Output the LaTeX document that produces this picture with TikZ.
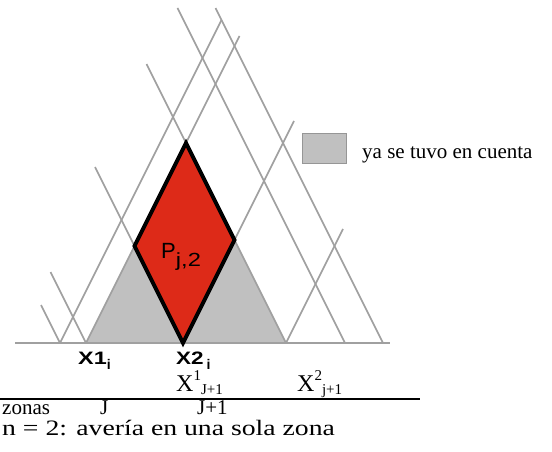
\documentclass[tikz,border=0pt]{standalone}
\usepackage{graphicx}
\usepackage{fontspec}
\setmainfont{Liberation Serif}
\newfontfamily\arialf{Liberation Sans}
\definecolor{redfill}{RGB}{221,42,24}
\definecolor{grayfill}{RGB}{192,192,192}
\definecolor{gridline}{RGB}{160,160,160}
\definecolor{legendborder}{RGB}{150,150,150}
\tikzset{
  gridln/.style={draw=gridline, line width=1.6pt},
  basel/.style={draw=gridline, line width=1.6pt},
  diam/.style={fill=redfill, draw=black, line width=4pt, line join=miter},
  serif/.style={font=\fontsize{21}{24}\selectfont, inner sep=0pt, anchor=base west},
  boldlbl/.style={font=\arialf\bfseries\fontsize{18}{20}\selectfont, inner sep=0pt, anchor=base west},
  bigx/.style={font=\fontsize{24}{26}\selectfont, inner sep=0pt, anchor=base west},
}
\begin{document}
\begin{tikzpicture}[x=1pt,y=-1pt]
\useasboundingbox (0,0) rectangle (552,452);
% gray triangle (already counted)
\fill[grayfill] (86,343) -- (286,343) -- (186,143) -- cycle;
% descending lines "\"
\draw[gridln] (41,305) -- (60,343);
\draw[gridln] (50.5,272) -- (86,343);
\draw[gridln] (95,167) -- (183,343);
\draw[gridln] (146.5,64) -- (286,343);
\draw[gridln] (177.5,8) -- (345,343);
\draw[gridln] (215.5,8) -- (383,343);
% ascending lines "/"
\draw[gridln] (60,343) -- (221.5,20);
\draw[gridln] (86,343) -- (239.5,36);
\draw[gridln] (183,343) -- (294,121);
\draw[gridln] (286,343) -- (343,229);
% base line
\draw[basel] (15,343) -- (390,343);
% red diamond
\path[diam] (186,143) -- (134.5,246) -- (183,343) -- (234.5,240) -- cycle;
\node[font=\arialf\fontsize{22}{24}\selectfont, inner sep=0pt, anchor=base west] (P) at (161,258) {P\raisebox{-8pt}{\fontsize{19}{20}\selectfont\scalebox{1.25}[1]{j,2}}};
% legend
\draw[fill=grayfill, draw=legendborder, line width=1pt] (302,133) rectangle (346,163);
\node[serif] (leg) at (362,158) {ya se tuvo en cuenta};
% bottom labels
\node[boldlbl] (x1) at (78,364) {\scalebox{1.3}[1]{X1}\raisebox{-5pt}{\fontsize{14}{15}\selectfont i}};
\node[boldlbl] (x2) at (176,364) {\scalebox{1.25}[1]{X2}\,\raisebox{-5pt}{\fontsize{14}{15}\selectfont i}};
\node[bigx] (xj1) at (176,391) {X\raisebox{11pt}{\fontsize{15}{16}\selectfont 1}\raisebox{-3pt}{\fontsize{15}{16}\selectfont J+1}};
\node[bigx] (xj2) at (297,391) {X\raisebox{11pt}{\fontsize{15}{16}\selectfont 2}\raisebox{-3pt}{\fontsize{15}{16}\selectfont j+1}};
\draw[line width=1.5pt] (0,399) -- (420,399);
\node[serif] (zonas) at (2,414) {zonas};
\node[serif] (J) at (100,414) {J};
\node[serif] (J1) at (197,414) {J+1};
\node[font=\fontsize{22}{24}\selectfont, inner sep=0pt, anchor=base west] (n2) at (2,435) {\scalebox{1.26}[1]{n = 2: avería en una sola zona}};
\end{tikzpicture}
\end{document}
